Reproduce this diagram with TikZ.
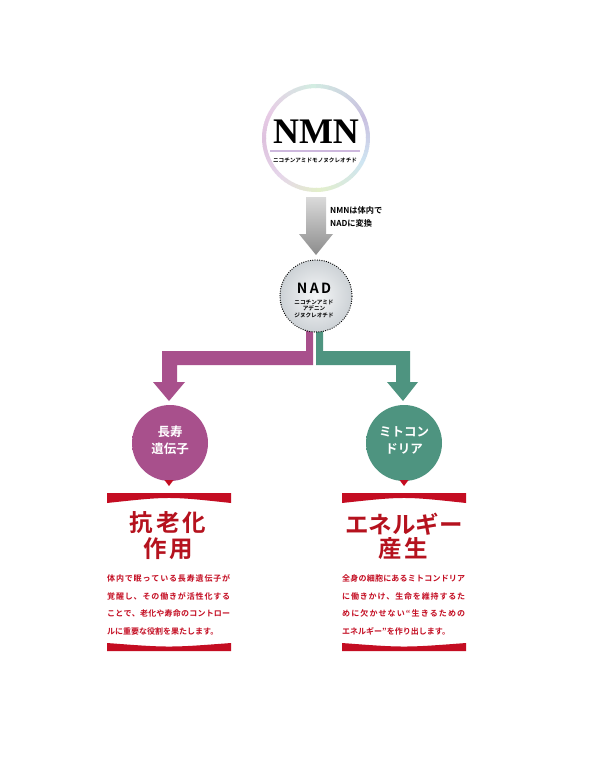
\documentclass[tikz,border=0pt]{standalone}
\usepackage{fontspec}
\setmainfont{Liberation Serif}
\newfontfamily\jp{Noto Sans CJK JP}
\newfontfamily\jpb{Noto Sans CJK JP Bold}
\definecolor{rA}{HTML}{E3EFCB}
\definecolor{rB}{HTML}{CFE5F2}
\definecolor{rC}{HTML}{C9C0E0}
\definecolor{rD}{HTML}{D3EDE2}
\definecolor{rE}{HTML}{E8CCE6}
\definecolor{rF}{HTML}{DEC2DE}
\definecolor{rG}{HTML}{E6D6EA}
\definecolor{lav}{HTML}{CDB8DD}
\definecolor{pur}{HTML}{A8508C}
\definecolor{grn}{HTML}{4E9480}
\definecolor{red1}{HTML}{C40D22}
\definecolor{red2}{HTML}{B5121E}
\pgfdeclareradialshading{purfade}{\pgfpoint{0bp}{0bp}}{color(0bp)=(pur); color(41bp)=(pur); color(45bp)=(pur!70!white); color(50bp)=(white)}
\pgfdeclareradialshading{grnfade}{\pgfpoint{0bp}{0bp}}{color(0bp)=(grn); color(41bp)=(grn); color(45bp)=(grn!70!white); color(50bp)=(white)}
\newcommand\fsz[1]{\fontsize{#1}{#1}\selectfont}
\def\jsp#1{\ifx#1\relax\unskip\else#1\hfil\expandafter\jsp\fi}
\newcommand\jline[1]{\hbox to 123pt{\jsp#1\relax}}
\tikzset{
  body/.style={inner sep=0pt, anchor=west, text=red1, font=\jpb\fsz{8}},
  ttl/.style={inner sep=0pt, anchor=center, text=red2, font=\jpb\fsz{23.5}},
  ctext/.style={inner sep=0pt, anchor=center, text=white, font=\jpb\fsz{12.5}},
  tiny/.style={inner sep=0pt, anchor=center, font=\jpb\fsz{5.6}},
  side/.style={inner sep=0pt, anchor=west, font=\jpb\fsz{8.2}},
}
\begin{document}
\begin{tikzpicture}[x=1pt,y=-1pt]
\useasboundingbox (0,0) rectangle (595,760);
\fill[white] (0,0) rectangle (595,760);

% NMN ring
\begin{scope}[shift={(316,138)}, yscale=-1]
\foreach \a/\b/\ca/\cb in {90/30/rA/rB, 30/-20/rB/rC, -20/-90/rC/rD, -90/-150/rD/rE, -150/-180/rE/rF, -180/-225/rF/rG, -225/-270/rG/rA} {
  \foreach \i in {0,...,9} {
    \pgfmathsetmacro\s{\a+(\b-\a)*\i/10}
    \pgfmathsetmacro\e{\a+(\b-\a)*(\i+1)/10-0.8}
    \pgfmathsetmacro\p{100-\i*10}
    \draw[line width=4pt, color=\ca!\p!\cb] (\s:52pt) arc[start angle=\s, end angle=\e, radius=52pt];
  }
}
\end{scope}
\node[inner sep=0pt, anchor=base, font=\bfseries\fsz{36}] (nmn) at (316,143) {NMN};
\draw[lav, line width=2pt] (270,151) -- (360,151);
\node[tiny] (nmnsub) at (315,160) {ニコチンアミドモノヌクレオチド};

% gray arrow
\shade[top color={rgb,255:red,218;green,218;blue,218}, bottom color={rgb,255:red,140;green,140;blue,140}]
  (306,197) -- (326,197) -- (326,234) -- (333,234) -- (316,255) -- (299,234) -- (306,234) -- cycle;
\node[side] (conv1) at (330,210) {NMNは体内で};
\node[side] (conv2) at (330,223) {NADに変換};

% branch arrows
\fill[pur] (306,325) -- (313,325) -- (313,365) -- (177,365) -- (177,382) -- (185,382) -- (169,401) -- (153,382) -- (162,382) -- (162,351) -- (306,351) -- cycle;
\fill[grn] (316,325) -- (323,325) -- (323,351) -- (410,351) -- (410,382) -- (418,382) -- (403,401) -- (387,382) -- (396,382) -- (396,365) -- (316,365) -- cycle;

% NAD circle
\shade[inner color={rgb,255:red,246;green,247;blue,248}, outer color={rgb,255:red,205;green,210;blue,214}] (316,296) circle (36pt);
\draw[line width=1.3pt, line cap=round, dash pattern=on 0pt off 2.3pt] (316,296) circle (36pt);
\node[inner sep=0pt, anchor=base, font=\jpb\fsz{14}] (nad) at (314,293.5) {N\kern2.5pt A\kern2.5pt D};
\node[tiny] (nad1) at (314,302) {ニコチンアミド};
\node[tiny] (nad2) at (314,308.5) {アデニン};
\node[tiny] (nad3) at (314,315) {ジヌクレオチド};

% colored circles with soft edges
\shade[shading=purfade] (170,443) circle (38pt);
\shade[shading=grnfade] (404,443) circle (38pt);
\node[ctext] (l1) at (170,432) {長寿};
\node[ctext] (l2) at (170,449) {遺伝子};
\node[ctext] (r1) at (404,432) {ミトコン};
\node[ctext] (r2) at (404,449) {ドリア};

% red triangles and bands
\foreach \cx/\xa/\xb in {169/107/231, 404/342/466} {
  \fill[red1] (\cx-4.5,480) -- (\cx+4.5,480) -- (\cx,486) -- cycle;
  \fill[red1] (\xa,493) -- (\xb,493) -- (\xb,503) .. controls (\cx,496.3) .. (\xa,503) -- cycle;
  \fill[red1] (\xa,643) .. controls (\cx,647.7) .. (\xb,643) -- (\xb,651) -- (\xa,651) -- cycle;
}

% left box text
\node[ttl] (t1) at (168,523) {抗\kern3pt 老\kern3pt 化};
\node[ttl] (t2) at (168,549) {作\kern3pt 用};
\node[body] (b1) at (107,578) {\jline{体内で眠っている長寿遺伝子が}};
\node[body] (b2) at (107,596) {\jline{覚醒し、その働きが活性化する}};
\node[body] (b3) at (107,613) {\jline{ことで、老化や寿命のコントロー}};
\node[body] (b4) at (107,631) {ルに重要な役割を果たします。};

% right box text
\node[ttl] (t3) at (404,524) {エネルギー};
\node[ttl] (t4) at (403,549) {産\kern3pt 生};
\node[body] (c1) at (342,578) {\jline{全身の細胞にあるミトコンドリア}};
\node[body] (c2) at (342,596) {\jline{に働きかけ、生命を維持するた}};
\node[body] (c3) at (342,613) {\jline{めに欠かせない“生きるための}};
\node[body] (c4) at (342,631) {エネルギー”を作り出します。};
\end{tikzpicture}
\end{document}
